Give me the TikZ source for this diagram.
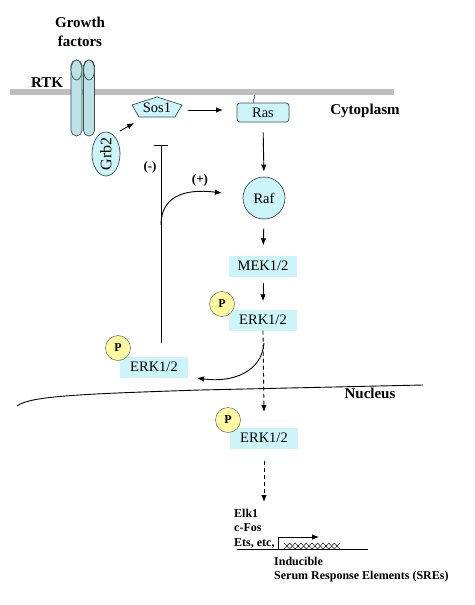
\documentclass[tikz,border=0pt]{standalone}
\usepackage{fontspec}
\setmainfont{Liberation Serif}
\usetikzlibrary{arrows.meta,shapes.geometric}
\definecolor{boxc}{RGB}{204,245,250}
\definecolor{rtkc}{RGB}{190,225,230}
\definecolor{edgec}{RGB}{55,80,85}
\definecolor{pyel}{RGB}{255,250,160}
\definecolor{memc}{RGB}{190,190,190}
\begin{document}
\begin{tikzpicture}[x=1pt,y=-1pt,
  prot/.style={fill=boxc, inner sep=0pt, font=\fontsize{14.5}{16}\selectfont},
  erkbox/.style={prot, minimum width=68pt, minimum height=21pt},
  pcirc/.style={circle, draw=edgec, fill=pyel, minimum size=25pt, inner sep=0pt, font=\fontsize{12}{14}\selectfont\bfseries},
  lbl/.style={font=\fontsize{15}{19}\selectfont\bfseries, inner sep=0pt, align=center},
  sml/.style={font=\fontsize{12}{14}\selectfont\bfseries, inner sep=0pt, anchor=west},
  arr/.style={-{Latex[length=7pt,width=5.5pt]}, line width=0.9pt},
  rtktube/.style={draw=edgec, fill=rtkc, line width=0.7pt},
]
\useasboundingbox (0,0) rectangle (474,605);
% membrane
\draw[memc, line width=6pt] (10,92) -- (394,92);
% labels
\node[lbl] (gf) at (80,32) {Growth\\factors};
\node[lbl] (rtk) at (47,83) {RTK};
\node[lbl] (cyto) at (365,111) {Cytoplasm};
\node[lbl] (nuc) at (370,393) {Nucleus};
% RTK tubes
\draw[rtktube, rounded corners=5.5pt] (71,60) rectangle (82,136);
\draw[rtktube] (76.5,70) ellipse (5.5 and 10);
\draw[rtktube, rounded corners=5.5pt] (83.5,60) rectangle (94.5,136);
\draw[rtktube] (89,70) ellipse (5.5 and 10);
% Grb2
\node[ellipse, draw=edgec, fill=boxc, line width=0.7pt, minimum width=28pt, minimum height=44pt, inner sep=0pt] (grb2) at (106,154) {};
\node[prot, fill=none, rotate=90, font=\fontsize{16}{18}\selectfont] (grb2t) at (grb2) {Grb2};
% Sos1
\draw[edgec, fill=boxc, line width=0.7pt] (157,97) -- (182,105) -- (175,117) -- (139,117) -- (132,105) -- cycle;
\node[prot, fill=none] (sos) at (157,108) {Sos1};
% Ras
\node[prot, draw=edgec, line width=0.7pt, rounded corners=3pt, minimum width=52pt, minimum height=19pt] (ras) at (263,112.5) {Ras};
\draw[edgec, line width=0.6pt] (254,95) .. controls (257,98) and (251,99) .. (254,103);
% Raf
\node[prot, circle, draw=edgec, line width=0.7pt, minimum size=42pt] (raf) at (264,198) {Raf};
% MEK, ERK
\node[erkbox] (mek) at (263,266) {MEK1/2};
\node[erkbox] (erk) at (263,320) {ERK1/2};
\node[pcirc] (p1) at (222,304) {P};
\node[erkbox] (erkl) at (154,367) {ERK1/2};
\node[pcirc] (p2) at (118,348) {P};
\node[erkbox] (erkn) at (264,438) {ERK1/2};
\node[pcirc] (p3) at (228,420) {P};
% coordinates
\coordinate (g1) at (120,131);
\coordinate (g2) at (134,123);
\coordinate (s1) at (188,110);
\coordinate (s2) at (223,110);
\coordinate (fbbot) at (161,343);
\coordinate (fbtop) at (161,145);
\coordinate (fbmid) at (161,225);
\coordinate (fbend) at (222,193);
\coordinate (c1) at (264,343);
\coordinate (c2) at (197,378);
\coordinate (d1) at (264,412);
\coordinate (d2) at (264,502);
% arrows
\draw[arr] (g1) -- (g2);
\draw[arr] (s1) -- (s2);
\draw[arr, shorten <=10pt, shorten >=5pt] (ras.south) -- (raf.north);
\draw[arr, shorten <=9pt, shorten >=10pt] (raf.south) -- (mek.north);
\draw[arr, shorten <=6pt, shorten >=8pt] (mek.south) -- (erk.north);
\draw[-{Bar[width=14pt]}, line width=0.9pt] (fbbot) -- (fbtop);
\node[font=\fontsize{13}{15}\selectfont\bfseries, inner sep=0pt] (minus) at (150,167) {(-)};
\draw[arr] (fbmid) .. controls (161,198) and (182,188) .. (fbend);
\node[font=\fontsize{13}{15}\selectfont\bfseries, inner sep=0pt] (plus) at (200,180) {(+)};
\draw[arr] (c1) .. controls (262,372) and (232,383) .. (c2);
\draw[arr, dash pattern=on 4pt off 3pt] (erk.south) -- (d1);
\draw[arr, dash pattern=on 4pt off 3pt, shorten <=12pt] (erkn.south) -- (d2);
% nucleus envelope
\draw[line width=0.9pt] (17,406) .. controls (30,396) and (80,394) .. (200,390) -- (423,385);
% gene
\node[sml] (elk) at (234,513) {Elk1};
\node[sml] (cfos) at (234,528) {c-Fos};
\node[sml] (ets) at (234,543) {Ets, etc,};
\coordinate (dnaL) at (237,549);
\coordinate (dnaR) at (368,549);
\coordinate (pr0) at (278,549);
\coordinate (pr1) at (278,537);
\coordinate (pr2) at (319,537);
\draw[line width=0.9pt] (dnaL) -- (dnaR);
\draw[arr, line width=0.8pt] (pr0) -- (pr1) -- (pr2);
\draw[line width=0.45pt] (284,549) \foreach \i in {0,...,4} { -- ({289.6+11.2*\i},543) -- ({295.2+11.2*\i},549) } ;
\draw[line width=0.45pt] (284,543) \foreach \i in {0,...,4} { -- ({289.6+11.2*\i},549) -- ({295.2+11.2*\i},543) } ;
\node[sml] (ind) at (274,561) {Inducible};
\node[sml] (sre) at (274,577) {Serum Response Elements (SREs)};
\end{tikzpicture}
\end{document}
